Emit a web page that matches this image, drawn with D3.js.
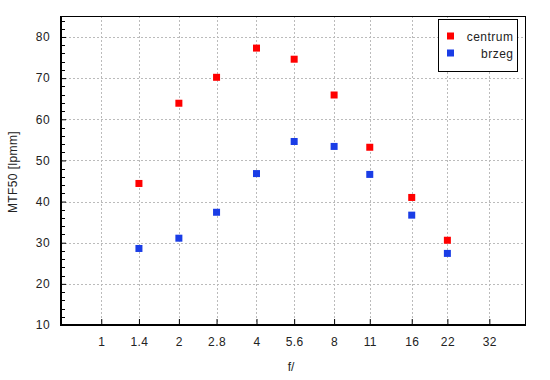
<!DOCTYPE html>
<html>
<head>
<meta charset="utf-8">
<script src="https://cdn.jsdelivr.net/npm/d3@7"></script>
<style>
  body { margin: 0; background: #fff; }
  text { font-family: "Liberation Sans", Arial, sans-serif; }
</style>
</head>
<body>
<div class="chart"></div>
<script>
const apertures = [1.4, 2, 2.8, 4, 5.6, 8, 11, 16, 22]
const centrum = [44.4, 63.9, 70.2, 77.3, 74.6, 65.9, 53.2, 41.0, 30.6]
const brzeg = [28.6, 31.1, 37.4, 46.8, 54.6, 53.4, 46.6, 36.7, 27.4]
const xTicks = [1, 1.4, 2, 2.8, 4, 5.6, 8, 11, 16, 22, 32]
const yTicks = [10, 20, 30, 40, 50, 60, 70, 80]
const seriesNames = ['centrum', 'brzeg']
const seriesColors = ['#ff0000', '#1a3de6']

const width = 550, height = 380
const margin = {top: 16, right: 25, bottom: 55, left: 61}
const innerWidth = width - margin.left - margin.right
const innerHeight = height - margin.top - margin.bottom

const svg = d3.select('.chart').append('svg').attr('width', width).attr('height', height)
const g = svg.append('g').attr('transform', `translate(${margin.left},${margin.top})`)

const x = d3.scaleLog().base(2).domain([0.698, 44]).range([0, innerWidth])
const y = d3.scaleLinear().domain([10, 85.1]).range([innerHeight, 0])

// grid
g.selectAll('.vgrid').data(xTicks).join('line')
  .attr('x1', d => Math.round(x(d)) + 0.5).attr('x2', d => Math.round(x(d)) + 0.5)
  .attr('y1', 0).attr('y2', innerHeight)
  .attr('stroke', '#bbb').attr('stroke-dasharray', '2,2')
g.selectAll('.hgrid').data(yTicks.filter(d => d > 10)).join('line')
  .attr('y1', d => Math.round(y(d)) + 0.5).attr('y2', d => Math.round(y(d)) + 0.5)
  .attr('x1', 0).attr('x2', innerWidth)
  .attr('stroke', '#bbb').attr('stroke-dasharray', '2,2')

// minor y ticks
const minor = d3.range(12, 85, 2).filter(d => d % 10 !== 0)
g.selectAll('.minor').data(minor).join('line')
  .attr('y1', d => Math.round(y(d)) + 0.5).attr('y2', d => Math.round(y(d)) + 0.5)
  .attr('x1', 0).attr('x2', 4).attr('stroke', '#000')

// axes
const xAxis = g.append('g').attr('transform', `translate(0,${innerHeight})`)
  .call(d3.axisBottom(x).tickValues(xTicks).tickFormat(d => d).tickSizeInner(-6).tickSizeOuter(0).tickPadding(12))
const yAxis = g.append('g')
  .call(d3.axisLeft(y).tickValues(yTicks).tickFormat(d => d).tickSizeInner(-5).tickSizeOuter(0).tickPadding(11))
;[xAxis, yAxis].forEach(a => {
  a.select('.domain').remove()
  a.selectAll('line').attr('stroke', '#000')
  a.selectAll('text').attr('font-size', 12).attr('fill', '#222')
    .attr('letter-spacing', 0.4)
    .attr('font-family', '"Liberation Sans", Arial, sans-serif')
})

// frame: thin top/right, thicker left/bottom axis lines
g.append('rect').attr('x', 0.5).attr('y', 0.5)
  .attr('width', innerWidth).attr('height', innerHeight)
  .attr('fill', 'none').attr('stroke', '#000')
g.append('line').attr('x1', 0).attr('x2', 0).attr('y1', 0).attr('y2', innerHeight + 1)
  .attr('stroke', '#000').attr('stroke-width', 2)
g.append('line').attr('x1', 0).attr('x2', innerWidth + 1).attr('y1', innerHeight).attr('y2', innerHeight)
  .attr('stroke', '#000').attr('stroke-width', 2)

// points
const sz = 7
;[centrum, brzeg].forEach((vals, i) => {
  g.selectAll('.pt' + i).data(vals).join('rect')
    .attr('x', (d, j) => x(apertures[j]) - sz / 2)
    .attr('y', d => y(d) - sz / 2)
    .attr('width', sz).attr('height', sz)
    .attr('fill', seriesColors[i])
})

// legend
const legend = svg.append('g').attr('transform', 'translate(438.5,19.5)')
legend.append('rect').attr('width', 79).attr('height', 52)
  .attr('fill', '#fff').attr('stroke', '#000')
seriesNames.forEach((name, i) => {
  legend.append('rect').attr('x', 8.5).attr('y', 13 + i * 17).attr('width', 7).attr('height', 7)
    .attr('fill', seriesColors[i])
  legend.append('text').attr('x', 75).attr('y', 21 + i * 17)
    .attr('text-anchor', 'end').attr('font-size', 12).attr('fill', '#222')
    .attr('letter-spacing', 0.5)
    .text(name)
})

// axis titles
svg.append('text').attr('x', 291).attr('y', 371).attr('text-anchor', 'middle')
  .attr('font-size', 12).attr('fill', '#222').text('f/')
svg.append('text').attr('transform', 'translate(17,172) rotate(-90)')
  .attr('text-anchor', 'middle').attr('font-size', 12).attr('fill', '#222')
  .attr('letter-spacing', 0.4)
  .text('MTF50 [lpmm]')
</script>
</body>
</html>
